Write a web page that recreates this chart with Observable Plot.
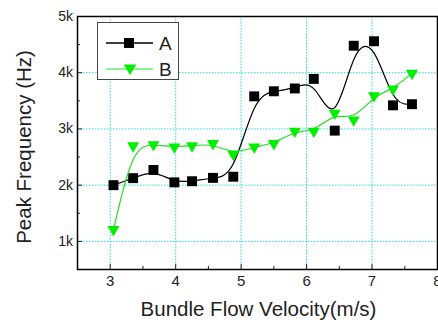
<!DOCTYPE html>
<html><head><meta charset="utf-8">
<script src="https://cdn.jsdelivr.net/npm/d3@7"></script>
<script src="https://cdn.jsdelivr.net/npm/@observablehq/plot@0.6"></script>
<style>
body{margin:0;background:#fff;font-family:"Liberation Sans",Arial,sans-serif;}
#wrap{position:relative;width:438px;height:322px;overflow:hidden;}
#legend{position:absolute;left:97px;top:22px;width:82px;height:58px;border:1px solid #444;background:#fff;box-sizing:border-box;}
#legend svg{position:absolute;left:-1px;top:-1px;}
</style></head><body><div id="wrap"></div>
<script>
const velocity = [3.05, 3.35, 3.66, 3.98, 4.25, 4.57, 4.88, 5.2, 5.5, 5.82, 6.11, 6.43, 6.72, 7.03, 7.32, 7.61];
const freqA = [2000, 2125, 2270, 2050, 2070, 2130, 2150, 3580, 3670, 3720, 3890, 2970, 4480, 4560, 3420, 3440];
const freqB = [1210, 2700, 2720, 2680, 2700, 2740, 2550, 2680, 2740, 2960, 2960, 3280, 3160, 3590, 3710, 3990];
const seriesNames = ["A", "B"];
const xTicks = [3, 4, 5, 6, 7, 8];
const xMinorTicks = [3.5, 4.5, 5.5, 6.5, 7.5];
const yTicks = [1000, 2000, 3000, 4000, 5000];
const yMinorTicks = [1500, 2500, 3500, 4500];
const xLabel = "Bundle Flow Velocity(m/s)";
const yLabel = "Peak Frequency (Hz)";

const dataA = velocity.map((v, i) => ({v, f: freqA[i]}));
const dataB = velocity.map((v, i) => ({v, f: freqB[i]}));
const colA = "#000000", colB = "#00ee00", colBLine = "#22dd22", gridCol = "#22dddd";

const chart = Plot.plot({
  width: 438, height: 322,
  marginLeft: 77, marginRight: 1, marginTop: 16, marginBottom: 53,
  style: {fontFamily: "'Liberation Sans', Arial, sans-serif", background: "white", color: "#222"},
  x: {domain: [2.5, 8]},
  y: {domain: [500, 5000]},
  marks: [
    Plot.gridX(xTicks, {stroke: gridCol, strokeOpacity: 1, strokeDasharray: "1.5,1.5"}),
    Plot.gridY(yTicks, {stroke: gridCol, strokeOpacity: 1, strokeDasharray: "1.5,1.5"}),
    Plot.axisX(xTicks, {tickSize: 0, tickPadding: 5.5, fontSize: 15, tickFormat: d => String(d), label: null}),
    Plot.axisX(xTicks, {tickSize: 5, dy: -5, tickFormat: () => "", label: null, stroke: "#222"}),
    Plot.axisX(xMinorTicks, {tickSize: 3, dy: -3, tickFormat: () => "", label: null, stroke: "#222"}),
    Plot.axisY(yTicks, {tickSize: 0, tickPadding: 4.5, fontSize: 14, tickFormat: d => (d / 1000) + "k", label: null}),
    Plot.axisY(yTicks, {tickSize: 5, dx: 5, tickFormat: () => "", label: null, stroke: "#222"}),
    Plot.axisY(yMinorTicks, {tickSize: 3, dx: 3, tickFormat: () => "", label: null, stroke: "#222"}),
    Plot.frame({stroke: "#000", strokeWidth: 1.5}),
    Plot.text([xLabel], {frameAnchor: "bottom", dx: 1, dy: 40, fontSize: 20.5, fill: "#222", lineAnchor: "middle", textAnchor: "middle"}),
    Plot.text([yLabel], {frameAnchor: "left", dx: -53, dy: 4, rotate: -90, fontSize: 20.5, fill: "#222", lineAnchor: "middle", textAnchor: "middle"}),
    Plot.line(dataA, {x: "v", y: "f", curve: "basis", stroke: colA, strokeWidth: 1.2}),
    Plot.dot(dataA, {x: "v", y: "f", symbol: "square", r: 5.6, fill: colA, stroke: "none"}),
    Plot.line(dataB, {x: "v", y: "f", curve: "basis", stroke: colBLine, strokeWidth: 1.2}),
    Plot.dot(dataB, {x: "v", y: "f", symbol: "triangle", rotate: 180, r: 4.45, fill: colB, stroke: "none"})
  ]
});
const wrap = document.getElementById("wrap");
wrap.appendChild(chart);

// legend
const leg = document.createElement("div");
leg.id = "legend";
const ns = "http://www.w3.org/2000/svg";
const lsvg = document.createElementNS(ns, "svg");
lsvg.setAttribute("width", 82); lsvg.setAttribute("height", 58);
const rows = [
  {name: seriesNames[0], y: 21, col: colA, line: colA, sym: "sq"},
  {name: seriesNames[1], y: 47, col: colB, line: "#66ee66", sym: "tri"}
];
for (const r of rows) {
  const l = document.createElementNS(ns, "line");
  l.setAttribute("x1", 9); l.setAttribute("x2", 56); l.setAttribute("y1", r.y); l.setAttribute("y2", r.y);
  l.setAttribute("stroke", r.line); l.setAttribute("stroke-width", 1.5);
  lsvg.appendChild(l);
  const p = document.createElementNS(ns, "path");
  if (r.sym === "sq") p.setAttribute("d", `M${32-5},${r.y-5}h10v10h-10z`);
  else p.setAttribute("d", `M${33-6.3},${r.y-4.5}h12.6l-6.3,10.5z`);
  p.setAttribute("fill", r.col);
  lsvg.appendChild(p);
  const t = document.createElementNS(ns, "text");
  t.setAttribute("x", 62); t.setAttribute("y", r.y + 7);
  t.setAttribute("font-size", 19); t.setAttribute("fill", "#222");
  t.setAttribute("font-family", "'Liberation Sans', Arial, sans-serif");
  t.textContent = r.name;
  lsvg.appendChild(t);
}
leg.appendChild(lsvg);
wrap.appendChild(leg);
</script>
</body></html>
